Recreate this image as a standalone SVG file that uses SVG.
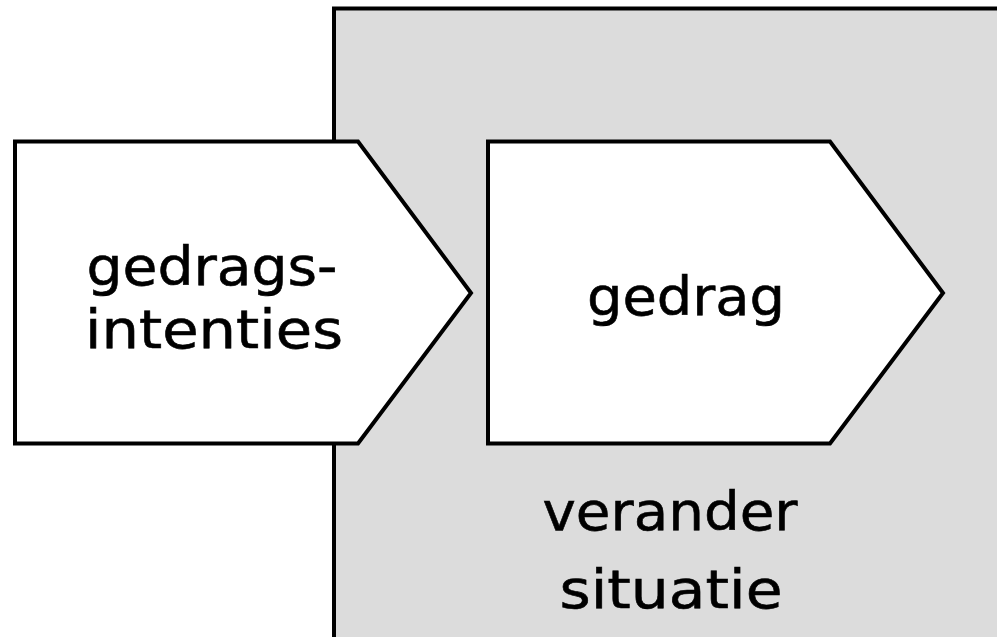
<svg xmlns="http://www.w3.org/2000/svg" width="997" height="637" viewBox="0 0 997 637">
<style>
.shape{stroke:#000;stroke-width:4;stroke-linejoin:miter}
.lbl{font-family:"DejaVu Sans","Liberation Sans",sans-serif;font-size:54px;fill:#000;stroke:#000;stroke-width:0.6;text-anchor:middle}
</style>
<rect width="997" height="637" fill="#fff"/>
<g id="situatie">
<rect class="shape" x="334" y="8.5" width="680" height="650" fill="#dcdcdc"/>
<text class="lbl" x="670" y="530" textLength="255" lengthAdjust="spacingAndGlyphs">verander</text>
<text class="lbl" x="671" y="608" textLength="223" lengthAdjust="spacingAndGlyphs">situatie</text>
</g>
<g id="connectors"></g>
<g id="intenties">
<polygon class="shape" points="15,141.5 358,141.5 471,293 358,443.5 15,443.5" fill="#fff"/>
<text class="lbl" x="212" y="285" textLength="251" lengthAdjust="spacingAndGlyphs">gedrags-</text>
<text class="lbl" x="214" y="348" textLength="258" lengthAdjust="spacingAndGlyphs">intenties</text>
</g>
<g id="gedrag">
<polygon class="shape" points="488,141.5 830,141.5 943,293 830,443.5 488,443.5" fill="#fff"/>
<text class="lbl" x="686" y="315" textLength="198" lengthAdjust="spacingAndGlyphs">gedrag</text>
</g>
</svg>
